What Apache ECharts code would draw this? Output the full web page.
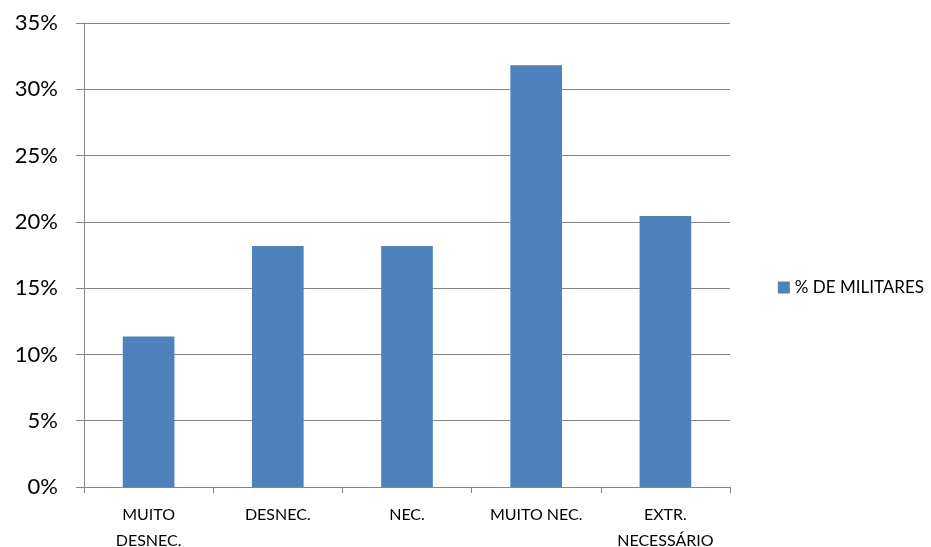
<!DOCTYPE html>
<html>
<head>
<meta charset="utf-8">
<script src="https://cdn.jsdelivr.net/npm/echarts@6/dist/echarts.min.js"></script>
<style>
  html, body { margin: 0; padding: 0; background: #fff; }
  #chart { width: 931px; height: 547px; }
</style>
</head>
<body>
<div id="chart"></div>
<script>
// values (percent)
const categories = ["MUITO\nDESNEC.", "DESNEC.", "NEC.", "MUITO NEC.", "EXTR.\nNECESSÁRIO"];
const militares = [11.36, 18.18, 18.18, 31.82, 20.45];
const seriesName = "% DE MILITARES";

const chart = echarts.init(document.getElementById("chart"));
const font = "Lato, 'Open Sans', sans-serif";

chart.setOption({
  animation: false,
  textStyle: { fontFamily: font },
  grid: { left: 84, right: 201, top: 23, bottom: 60, containLabel: false, outerBoundsMode: "none" },
  legend: {
    data: [seriesName],
    right: 2,
    top: 274,
    icon: "rect",
    itemWidth: 12,
    itemHeight: 12,
    itemGap: 6,
    textStyle: { fontSize: 17, color: "#000", fontFamily: font }
  },
  xAxis: {
    type: "category",
    data: categories,
    axisLine: { lineStyle: { color: "#868686", width: 1 } },
    axisTick: { show: true, length: 6, lineStyle: { color: "#868686" } },
    axisLabel: { color: "#000", fontSize: 16, lineHeight: 26, margin: 15, interval: 0, hideOverlap: false, fontFamily: font }
  },
  yAxis: {
    type: "value",
    min: 0,
    max: 35,
    interval: 5,
    axisLine: { show: true, lineStyle: { color: "#868686", width: 1 } },
    axisTick: { show: true, length: 8, inside: false, lineStyle: { color: "#868686" } },
    splitLine: { show: true, lineStyle: { color: "#868686", width: 1 } },
    axisLabel: { color: "#000", fontSize: 22, margin: 26, formatter: "{value}%", fontFamily: font }
  },
  series: [{
    name: seriesName,
    type: "bar",
    data: militares,
    barWidth: "40%",
    itemStyle: { color: "#4f81bd" }
  }]
});
</script>
</body>
</html>
